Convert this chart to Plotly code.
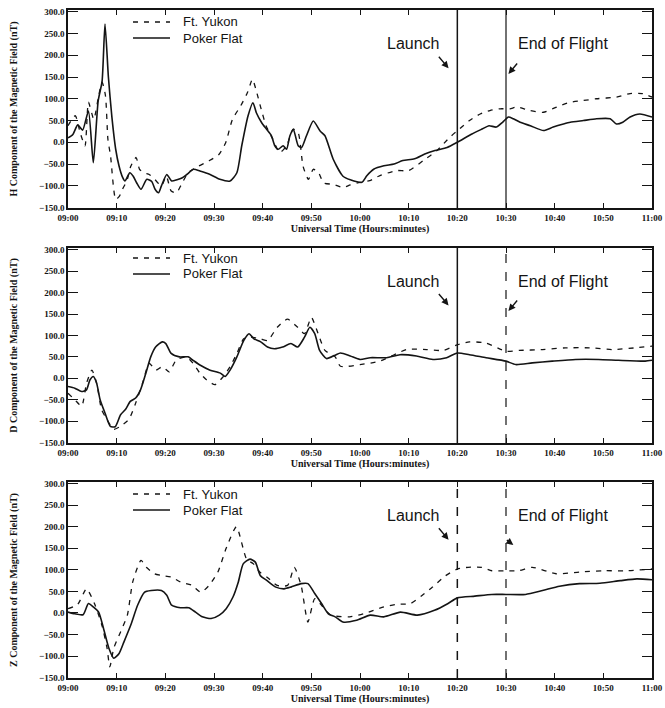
import plotly.graph_objects as go

# ---------------- data (time in minutes after 09:00 UT, field in nT) ----------------
tick_minutes = [0, 10, 20, 30, 40, 50, 60, 70, 80, 90, 100, 110, 120]
tick_labels = ["09:00", "09:10", "09:20", "09:30", "09:40", "09:50", "10:00",
               "10:10", "10:20", "10:30", "10:40", "10:50", "11:00"]
y_ticks = [-150, -100, -50, 0, 50, 100, 150, 200, 250, 300]

launch_minute = 80
end_of_flight_minute = 90

# H component
h_poker_t = [0, 1, 2, 3, 4.2, 5.2, 6.2, 7, 7.6, 8.3, 9, 9.8, 10.5, 11.2, 11.7, 12.7, 13.4, 14.1, 15, 16.2,
             17.2, 17.9, 18.6, 19.2, 20.3, 21.3, 22.4, 23.4, 24.4, 25.8, 27.1, 29.2, 31.2, 33.3, 34.7, 35.7,
             37, 38, 38.7, 39.8, 40.8, 41.8, 42.5, 43.2, 44.2, 44.9, 45.6, 46.3, 47.3, 48, 49, 50.4, 51.8,
             52.8, 54.5, 56.5, 58, 60.4, 61.4, 62.8, 64.9, 67, 68.8, 71.2, 73.3, 75.4, 77.9, 80, 83, 85.2,
             86.5, 88, 89.3, 90.5, 91.5, 92.9, 95, 97.7, 99.7, 101.8, 103.2, 105.9, 108.6, 111.4, 112.7,
             114, 115.5, 117.5, 120]
h_poker_v = [10, 18, 40, 28, 72, -47, 95, 140, 272, 150, 60, -16, -55, -80, -89, -70, -78, -93, -108, -85,
             -90, -108, -116, -100, -74, -89, -86, -82, -74, -62, -66, -74, -85, -89, -70, -8,
             61, 91, 68, 45, 30, 15, -8, -16, -8, -16, 15, 30, -8, -12, 15, 49, 26,
             15, -39, -78, -86, -92, -77, -62, -54, -50, -42, -38, -27, -19, -12, 0, 19, 31,
             38, 35, 46, 58, 54, 46, 38, 27, 35, 42, 46, 50, 54, 54, 42,
             46, 58, 65, 58]
h_yukon_t = [0, 1.5, 2.5, 3.5, 4.2, 5.3, 6.3, 7, 7.7, 8.2, 8.75, 9.8, 10.5, 11.2, 12.2, 12.9, 14, 14.7,
             15.7, 16.7, 17.8, 19.2, 20.2, 21.2, 22.3, 23.3, 24.7, 26.8, 28.9, 31, 32.4, 33.8, 35.5, 36.9,
             37.9, 38.6, 39.7, 40.7, 42.1, 43.5, 44.9, 46.3, 47.3, 48.3, 49.4, 50.4, 51.5, 52.5, 54.6,
             56.5, 58, 60, 62, 64, 67.5, 70, 73, 75.8, 78.5, 80.5, 82.5, 84.7, 86.7, 88.8, 90.8, 92.2,
             94.9, 97.7, 100.4, 103.2, 105.9, 108.6, 112.7, 115.5, 118, 120]
h_yukon_v = [38, 61, 22, -8, 92, 53, 107, 138, 107, 7, -32, -131, -125, -108, -85, -55, -35, -62,
             -70, -74, -85, -100, -78, -112, -116, -97, -70, -55, -43, -28, -1, 53, 84, 115,
             145, 122, 76, 38, 7, -24, -8, 30, 22, -55, -85, -62, -70, -93, -97,
             -104, -98, -92, -88, -77, -65, -65, -42, -19, 12, 31, 50, 65, 73, 77, 77, 81,
             73, 69, 81, 92, 96, 100, 104, 112, 112, 104]

# D component
d_poker_t = [0, 1.4, 2.8, 3.8, 4.5, 5.2, 5.9, 6.6, 7.6, 8.7, 9.7, 10.8, 11.8, 12.8, 13.9, 14.9, 16, 17,
             18, 19.4, 20.1, 21.2, 22.9, 24.7, 25.7, 27.1, 29.2, 31.3, 32.3, 33.3, 34.7, 36.1, 37.2,
             38.2, 39.6, 41, 42.4, 44.1, 45.8, 47.2, 48.6, 49.7, 50.7, 51.7, 53.1, 54.9, 56, 58, 60,
             62.1, 65.5, 68.2, 71.6, 75, 77.8, 80, 82.5, 85.9, 90, 92, 95.4, 99.5, 104.3, 109, 113.1,
             118.6, 120]
d_poker_v = [-19, -23, -31, -27, -4, 4, -12, -50, -81, -112, -113, -85, -73, -54, -46, -27, 12, 50,
             73, 85, 81, 58, 50, 50, 42, 31, 19, 12, 4, 19, 50, 88, 104,
             92, 85, 73, 69, 73, 81, 73, 96, 119, 104, 65, 46, 54, 59, 52, 44,
             48, 48, 55, 52, 44, 48, 59, 55, 48, 40, 32, 36, 40, 44, 44, 42,
             40, 42]
d_yukon_t = [0, 1.4, 2.8, 3.8, 4.9, 5.9, 6.9, 8, 9.4, 10.8, 12.5, 13.9, 15.3, 16.7, 18, 19.4, 20.8,
             22.2, 24.3, 25.7, 27.1, 28.5, 30.2, 31.9, 33.3, 34.7, 36.1, 37.5, 39.6, 41, 43, 45.1,
             47.2, 48.6, 50, 51.4, 52.8, 54.9, 56, 60, 64.1, 69.6, 73.7, 77.1, 80, 82.5, 85.9, 90,
             92.7, 97.5, 102.2, 107.7, 111.8, 116.5, 120]
d_yukon_v = [-35, -50, -65, -12, 19, -12, -73, -96, -119, -112, -96, -58, -12, 35, 19, 27, 15,
             42, 50, 35, 12, -4, -15, 4, 27, 58, 92, 96, 92, 88, 119, 138,
             119, 104, 142, 104, 65, 50, 28, 32, 40, 67, 67, 65, 78, 85, 82, 63,
             65, 67, 71, 71, 67, 71, 75]

# Z component
z_poker_t = [0, 1.4, 3.1, 4.2, 5.2, 6.3, 7.3, 8.4, 9.4, 10.5, 11.5, 12.9, 14.3, 15.7, 17.1, 19.2, 20.3,
             21.3, 23.1, 24.8, 26.2, 27.6, 29.4, 31.1, 32.5, 33.9, 35, 36, 37.4, 38.5, 39.5, 40.9,
             42.7, 44.4, 45.8, 47.9, 49.3, 50.7, 52.1, 53.5, 54.9, 56.5, 59.3, 62.1, 64.9, 68.3,
             71.8, 75.3, 78.1, 80, 83.6, 87.1, 90, 94, 97.5, 101, 105.1, 109.3, 113.5, 116.9, 120]
z_poker_v = [2, -2, -4, 22, 14, 2, -36, -82, -105, -94, -67, -28, 18, 48, 52, 52, 41,
             18, 12, 12, 2, -9, -13, -5, 10, 37, 72, 114, 125, 118, 87, 75,
             60, 56, 60, 68, 68, 45, 22, -2, -9, -21, -17, -5, -9, 2,
             -5, 6, 22, 35, 39, 43, 43, 43, 52, 62, 68, 69, 75, 79, 77]
z_yukon_t = [0, 2, 3.8, 5.5, 7, 8, 8.6, 9.4, 10.8, 12.2, 13.3, 15, 16.1, 17.8, 19.2, 21.3, 23.1, 25.5,
             27.3, 29, 30.8, 32.5, 34.6, 36.7, 38.1, 39.4, 40.9, 43, 45.1, 46.5, 47.9, 49.3, 50.7,
             52.1, 54, 57.9, 60.7, 64.9, 67.6, 70.4, 72.8, 74.9, 77.4, 80, 82.2, 85, 87.1, 90, 92.6,
             95.4, 100.3, 105.1, 110, 114.9, 120]
z_yukon_v = [10, 20, 56, 20, -30, -80, -125, -82, -44, -5, 72, 122, 106, 91, 87, 83, 72, 64,
             48, 64, 95, 150, 200, 125, 114, 95, 83, 64, 64, 106, 64, -21, 33,
             18, -5, -9, -2, 14, 20, 22, 41, 60, 85, 102, 106, 106, 98, 98, 98,
             106, 91, 95, 98, 98, 102]

components = ["H", "D", "Z"]
series = {
    "H": (h_yukon_t, h_yukon_v, h_poker_t, h_poker_v),
    "D": (d_yukon_t, d_yukon_v, d_poker_t, d_poker_v),
    "Z": (z_yukon_t, z_yukon_v, z_poker_t, z_poker_v),
}

# ---------------- layout geometry ----------------
W, H = 665, 708
ML, MR, MT, MB = 68, 13, 10, 30
ph = H - MT - MB
panel_px = [(10, 208), (248, 443), (482, 678)]  # top, bottom pixel of each panel
domains = [[(H - MB - b) / ph, (H - MB - t) / ph] for (t, b) in panel_px]

INK = "#141414"
tick_font = dict(family="Liberation Serif", size=9, color=INK, weight="bold")
title_font = dict(family="Liberation Serif", size=10, color=INK, weight="bold")
label_font = dict(family="Liberation Sans", size=13, color=INK)
event_font = dict(family="Liberation Sans", size=16, color=INK)

fig = go.Figure()
layout = dict(width=W, height=H, margin=dict(l=ML, r=MR, t=MT, b=MB),
              paper_bgcolor="white", plot_bgcolor="white", showlegend=False)

shapes = []
annotations = []

for i, comp in enumerate(components):
    n = "" if i == 0 else str(i + 1)
    xa, ya = "x" + n, "y" + n
    yt, yv, pt, pv = series[comp]
    fig.add_trace(go.Scatter(x=yt, y=yv, mode="lines", name="Ft. Yukon", xaxis=xa, yaxis=ya,
                             line=dict(color=INK, width=1.3, dash="5px,6px", shape="spline", smoothing=0.6)))
    fig.add_trace(go.Scatter(x=pt, y=pv, mode="lines", name="Poker Flat", xaxis=xa, yaxis=ya,
                             line=dict(color=INK, width=1.6, shape="spline", smoothing=0.6)))

    layout["xaxis" + n] = dict(domain=[0, 1], anchor=ya, range=[0, 120],
                               tickvals=tick_minutes, ticktext=tick_labels,
                               ticks="inside", ticklen=5, tickwidth=1.2, tickcolor=INK,
                               showline=True, linecolor=INK, linewidth=1.5, mirror="ticks",
                               showgrid=False, zeroline=False, tickfont=tick_font,
                               title=dict(text="Universal Time (Hours:minutes)", font=title_font, standoff=2),
                               automargin=False)
    layout["yaxis" + n] = dict(domain=domains[i], anchor=xa, range=[-151, 304],
                               tickvals=y_ticks, tickformat=".1f",
                               ticks="inside", ticklen=10, tickwidth=1.2, tickcolor=INK,
                               showline=True, linecolor=INK, linewidth=1.5, mirror="ticks",
                               showgrid=False, zeroline=False, tickfont=tick_font,
                               title=dict(text=comp + " Component of the Magnetic Field (nT)",
                                          font=title_font, standoff=20),
                               automargin=False)

    # event lines
    end_dash = "solid" if i == 0 else "dash"
    launch_dash = "dash" if i == 2 else "solid"
    shapes.append(dict(type="line", xref=xa, yref=ya + " domain", x0=launch_minute, x1=launch_minute,
                       y0=0, y1=1, line=dict(color=INK, width=1.5, dash=launch_dash)))
    shapes.append(dict(type="line", xref=xa, yref=ya + " domain", x0=end_of_flight_minute,
                       x1=end_of_flight_minute, y0=0, y1=1, line=dict(color=INK, width=1.2, dash=end_dash)))

    # legend (drawn inside each panel)
    top, bot = panel_px[i]
    hgt = bot - top
    y_fy = (bot - (top + (12 if i != 1 else 10))) / hgt
    y_pf = (bot - (top + (28 if i != 1 else 26))) / hgt
    x0 = (133 - ML) / (W - ML - MR)
    x1 = (170 - ML) / (W - ML - MR)
    xt = (181 - ML) / (W - ML - MR)
    shapes.append(dict(type="line", xref=xa + " domain", yref=ya + " domain", x0=x0, x1=x1,
                       y0=y_fy, y1=y_fy, line=dict(color=INK, width=1.3, dash="5px,6px")))
    shapes.append(dict(type="line", xref=xa + " domain", yref=ya + " domain", x0=x0, x1=x1,
                       y0=y_pf, y1=y_pf, line=dict(color=INK, width=1.6)))
    for txt, yy in (("Ft. Yukon", y_fy), ("Poker Flat", y_pf)):
        annotations.append(dict(text=txt, xref=xa + " domain", yref=ya + " domain", x=xt, y=yy,
                                xanchor="left", yanchor="middle", showarrow=False, font=label_font))

    # event labels and arrows
    annotations.append(dict(text="Launch", xref=xa, yref=ya, x=71, y=226, showarrow=False,
                            xanchor="center", yanchor="middle", font=event_font))
    annotations.append(dict(text="End of Flight", xref=xa, yref=ya, x=101.8, y=226, showarrow=False,
                            xanchor="center", yanchor="middle", font=event_font))
    annotations.append(dict(text="", xref=xa, yref=ya, x=78.2, y=170, ax=-11, ay=-13,
                            showarrow=True, arrowhead=2, arrowsize=1, arrowwidth=1.4, arrowcolor=INK))
    if i < 2:
        annotations.append(dict(text="", xref=xa, yref=ya, x=90.5, y=157, ax=10, ay=-12,
                                showarrow=True, arrowhead=2, arrowsize=1, arrowwidth=1.4, arrowcolor=INK))
    else:
        annotations.append(dict(text="", xref=xa, yref=ya, x=91.5, y=158, ax=-8, ay=-6,
                                showarrow=True, arrowhead=2, arrowsize=1, arrowwidth=1.4, arrowcolor=INK))

layout["shapes"] = shapes
layout["annotations"] = annotations
fig.update_layout(**layout)
fig.write_html("out.html")
